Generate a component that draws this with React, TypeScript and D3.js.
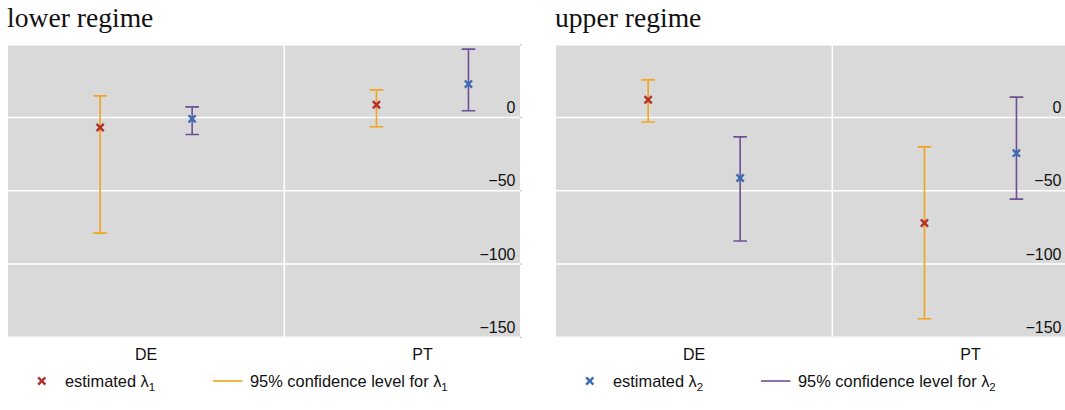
import * as d3 from 'd3';

// values
const categories = ['DE', 'PT'];
const yTicks = [0, -50, -100, -150];

const lowerEst1 = [-6.8, 8.7];
const lowerLo1 = [-78.9, -6.3];
const lowerHi1 = [14.8, 18.9];
const lowerEst2 = [-0.9, 22.8];
const lowerLo2 = [-11.6, 4.6];
const lowerHi2 = [7.3, 46.7];

const upperEst1 = [12.1, -72.0];
const upperLo1 = [-3.1, -137.3];
const upperHi1 = [25.7, -20.0];
const upperEst2 = [-41.3, -24.3];
const upperLo2 = [-84.3, -55.7];
const upperHi2 = [-13.2, 13.9];

const ORANGE = '#F2A41E';
const PURPLE = '#6E4F95';
const RED = '#B3312B';
const BLUE = '#3B6CB2';
const BG = '#D9D9D9';
const SANS = 'Liberation Sans, Arial, sans-serif';

const top = 45;
const bottom = 337.3;
const bandW = 276.3;
const offset = 46;

const y = d3.scaleLinear().domain([-150, 49.5]).range([bottom, top]);

function Cross({ cx, cy, color }) {
  const s = 3.6;
  return (
    <g stroke={color} strokeWidth={2.4}>
      <line x1={cx - s} y1={cy - s} x2={cx + s} y2={cy + s} />
      <line x1={cx - s} y1={cy + s} x2={cx + s} y2={cy - s} />
    </g>
  );
}

function ErrBar({ cx, lo, hi, color }) {
  const c = 6.8;
  return (
    <g stroke={color} strokeWidth={1.6}>
      <line x1={cx} x2={cx} y1={y(lo)} y2={y(hi)} />
      <line x1={cx - c} x2={cx + c} y1={y(lo)} y2={y(lo)} />
      <line x1={cx - c} x2={cx + c} y1={y(hi)} y2={y(hi)} />
    </g>
  );
}

function Panel({ x0, width, title, id, est1, lo1, hi1, est2, lo2, hi2, legendIdx }) {
  const x = d3.scaleBand().domain(categories).range([x0, x0 + 2 * bandW]).padding(0);
  const right = x0 + width;
  const mid = x.bandwidth() / 2;
  const legendColorX = legendIdx === 1 ? RED : BLUE;
  const legendLine = legendIdx === 1 ? ORANGE : PURPLE;
  const ly = 381;
  return (
    <g>
      <text x={x0 - 1} y={27} fontFamily="Liberation Serif, Times New Roman, serif" fontSize={27.6} fill="#111">
        {title}
      </text>
      <defs>
        <clipPath id={id}>
          <rect x={x0} y={top} width={width} height={bottom - top} />
        </clipPath>
      </defs>
      <rect x={x0} y={top} width={width} height={bottom - top} fill={BG} />
      <line x1={x0} x2={right} y1={top + 0.5} y2={top + 0.5} stroke="#ececec" strokeWidth={1} />
      <g clipPath={`url(#${id})`}>
        {yTicks.map(t => (
          <line key={t} x1={x0} x2={right} y1={y(t)} y2={y(t)} stroke="#fff" strokeWidth={1.6} />
        ))}
        {categories.slice(1).map(c => (
          <line key={c} x1={x(c)} x2={x(c)} y1={top} y2={bottom} stroke="#fff" strokeWidth={1.6} />
        ))}
        {categories.map((c, i) => (
          <g key={c}>
            <ErrBar cx={x(c) + mid - offset} lo={lo1[i]} hi={hi1[i]} color={ORANGE} />
            <ErrBar cx={x(c) + mid + offset} lo={lo2[i]} hi={hi2[i]} color={PURPLE} />
            <Cross cx={x(c) + mid - offset} cy={y(est1[i])} color={RED} />
            <Cross cx={x(c) + mid + offset} cy={y(est2[i])} color={BLUE} />
          </g>
        ))}
      </g>
      {[...yTicks, 49.5].map(t => (
        <line key={'tk' + t} x1={right} x2={right + 2} y1={y(t)} y2={y(t)} stroke="#bbb" strokeWidth={1} />
      ))}
      {yTicks.map(t => (
        <text key={'l' + t} x={right - 4.5} y={y(t) - 4.4} textAnchor="end" fontFamily={SANS} fontSize={16} fill="#111">
          {d3.format('d')(t)}
        </text>
      ))}
      {categories.map(c => (
        <text key={'c' + c} x={x(c) + mid} y={359.5} textAnchor="middle" fontFamily={SANS} fontSize={16} fill="#111">
          {c}
        </text>
      ))}
      <Cross cx={x0 + 33.8} cy={ly} color={legendColorX} />
      <text x={x0 + 57} y={ly + 5.8} fontFamily={SANS} fontSize={16.4} fill="#111">
        estimated λ<tspan fontSize={11.5} dy={4}>{legendIdx}</tspan>
      </text>
      <line x1={x0 + 205} x2={x0 + 234.5} y1={ly} y2={ly} stroke={legendLine} strokeWidth={1.6} />
      <text x={x0 + 242} y={ly + 5.8} fontFamily={SANS} fontSize={16.4} fill="#111">
        95% confidence level for λ<tspan fontSize={11.5} dy={4}>{legendIdx}</tspan>
      </text>
    </g>
  );
}

export default function App() {
  return (
    <svg width={1065} height={410} style={{ position: 'absolute', left: 0, top: 0, background: '#fff' }}>
      <Panel x0={8} width={512} title="lower regime" id="clipL"
        est1={lowerEst1} lo1={lowerLo1} hi1={lowerHi1}
        est2={lowerEst2} lo2={lowerLo2} hi2={lowerHi2} legendIdx={1} />
      <Panel x0={556} width={510} title="upper regime" id="clipU"
        est1={upperEst1} lo1={upperLo1} hi1={upperHi1}
        est2={upperEst2} lo2={upperLo2} hi2={upperHi2} legendIdx={2} />
    </svg>
  );
}
